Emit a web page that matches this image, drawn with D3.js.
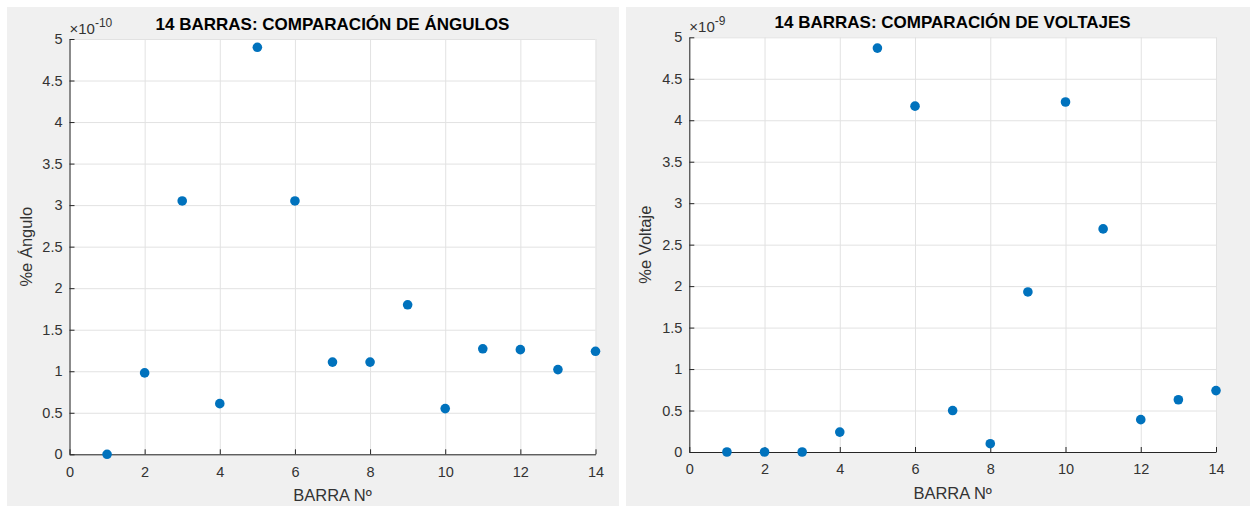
<!DOCTYPE html>
<html>
  <head>
    <meta http-equiv="Content-Type" content="text/html;charset=utf-8"/>
    <script src="https://d3js.org/d3.v7.min.js"></script>
    <style type="text/css">
    body { margin: 0; background: #fff; }
    svg { display: block; font-family: "Liberation Sans", Arial, Helvetica, sans-serif; }
    .grid line { stroke: #e2e2e2; stroke-width: 1px; }
    .grid path { display: none; }
    .axis path, .axis line { stroke: #262626; stroke-width: 1px; }
    .axis text { fill: #333; font-size: 14.5px; }
    </style>
  </head>
  <body>
    <script type="text/javascript">
    // barras 1..14
    var barras = [1, 2, 3, 4, 5, 6, 7, 8, 9, 10, 11, 12, 13, 14];
    // % error de ángulo (x 1e-10)
    var errAngulo = [0, 0.98, 3.05, 0.61, 4.9, 3.05, 1.11, 1.11, 1.80, 0.55, 1.27, 1.26, 1.02, 1.24];
    // % error de voltaje (x 1e-9)
    var errVoltaje = [0, 0, 0, 0.24, 4.87, 4.17, 0.5, 0.1, 1.93, 4.22, 2.69, 0.39, 0.63, 0.74];
    var xTicks = [0, 2, 4, 6, 8, 10, 12, 14];
    var yTicks = [0, 0.5, 1, 1.5, 2, 2.5, 3, 3.5, 4, 4.5, 5];

    var svg = d3.select("body")
      .append("svg")
        .attr("width", 1250)
        .attr("height", 506);

    function drawPanel(p) {
      var g = svg.append("g");

      g.append("rect")
        .attr("x", p.bx).attr("y", 7)
        .attr("width", p.bw).attr("height", 499)
        .attr("fill", "#f0f0f0");

      var xScale = d3.scaleLinear().domain([0, 14]).range([p.left, p.right]);
      var yScale = d3.scaleLinear().domain([0, 5]).range([p.bottom, p.top]);
      var w = p.right - p.left, h = p.bottom - p.top;

      g.append("rect")
        .attr("x", p.left).attr("y", p.top)
        .attr("width", w).attr("height", h)
        .attr("fill", "#fff");

      // grid
      g.append("g")
          .classed("grid", true)
          .attr("transform", "translate(0," + p.bottom + ")")
          .call(d3.axisBottom(xScale).tickValues(xTicks).tickSize(-h).tickFormat(""));
      g.append("g")
          .classed("grid", true)
          .attr("transform", "translate(" + p.left + ",0)")
          .call(d3.axisLeft(yScale).tickValues(yTicks).tickSize(-w).tickFormat(""));

      // axes with inward ticks
      g.append("g")
          .classed("axis", true)
          .attr("transform", "translate(0," + p.bottom + ")")
          .call(d3.axisBottom(xScale).tickValues(xTicks).tickFormat(d3.format("~g"))
            .tickSizeInner(-5).tickSizeOuter(0).tickPadding(12));
      g.append("g")
          .classed("axis", true)
          .attr("transform", "translate(" + p.left + ",0)")
          .call(d3.axisLeft(yScale).tickValues(yTicks).tickFormat(d3.format("~g"))
            .tickSizeInner(-5).tickSizeOuter(0).tickPadding(7));

      // points
      g.selectAll("circle.pt")
        .data(barras)
        .enter()
        .append("circle")
          .classed("pt", true)
          .attr("cx", function(d) { return xScale(d); })
          .attr("cy", function(d, i) { return yScale(p.values[i]); })
          .attr("r", 4.8)
          .attr("fill", "#0072bd");

      var cx = (p.left + p.right) / 2;

      g.append("text")
        .attr("x", cx).attr("y", p.top - 9)
        .attr("text-anchor", "middle")
        .attr("font-size", "17px")
        .attr("font-weight", "bold")
        .attr("fill", "#000")
        .text(p.title);

      var ex = g.append("text")
        .attr("x", p.left).attr("y", p.top - 5)
        .attr("font-size", "15px")
        .attr("fill", "#333");
      ex.append("tspan").text("\u00d710");
      ex.append("tspan").attr("dy", -7).attr("font-size", "12px").text(p.exp);

      g.append("text")
        .attr("x", cx).attr("y", p.bottom + 47)
        .attr("text-anchor", "middle")
        .attr("font-size", "16.5px")
        .attr("fill", "#333")
        .text("BARRA N\u00ba");

      g.append("text")
        .attr("transform", "translate(" + (p.left - 38) + "," + ((p.top + p.bottom) / 2) + ") rotate(-90)")
        .attr("text-anchor", "middle")
        .attr("font-size", "16.5px")
        .attr("fill", "#333")
        .text(p.ylabel);
    }

    drawPanel({
      bx: 7, bw: 612,
      left: 69.5, right: 595.5, top: 39, bottom: 454.3,
      values: errAngulo,
      title: "14 BARRAS: COMPARACI\u00d3N DE \u00c1NGULOS",
      exp: "-10",
      ylabel: "%e \u00c1ngulo"
    });

    drawPanel({
      bx: 626, bw: 624,
      left: 689.3, right: 1216, top: 37.3, bottom: 452,
      values: errVoltaje,
      title: "14 BARRAS: COMPARACI\u00d3N DE VOLTAJES",
      exp: "-9",
      ylabel: "%e Voltaje"
    });
    </script>
  </body>
</html>
